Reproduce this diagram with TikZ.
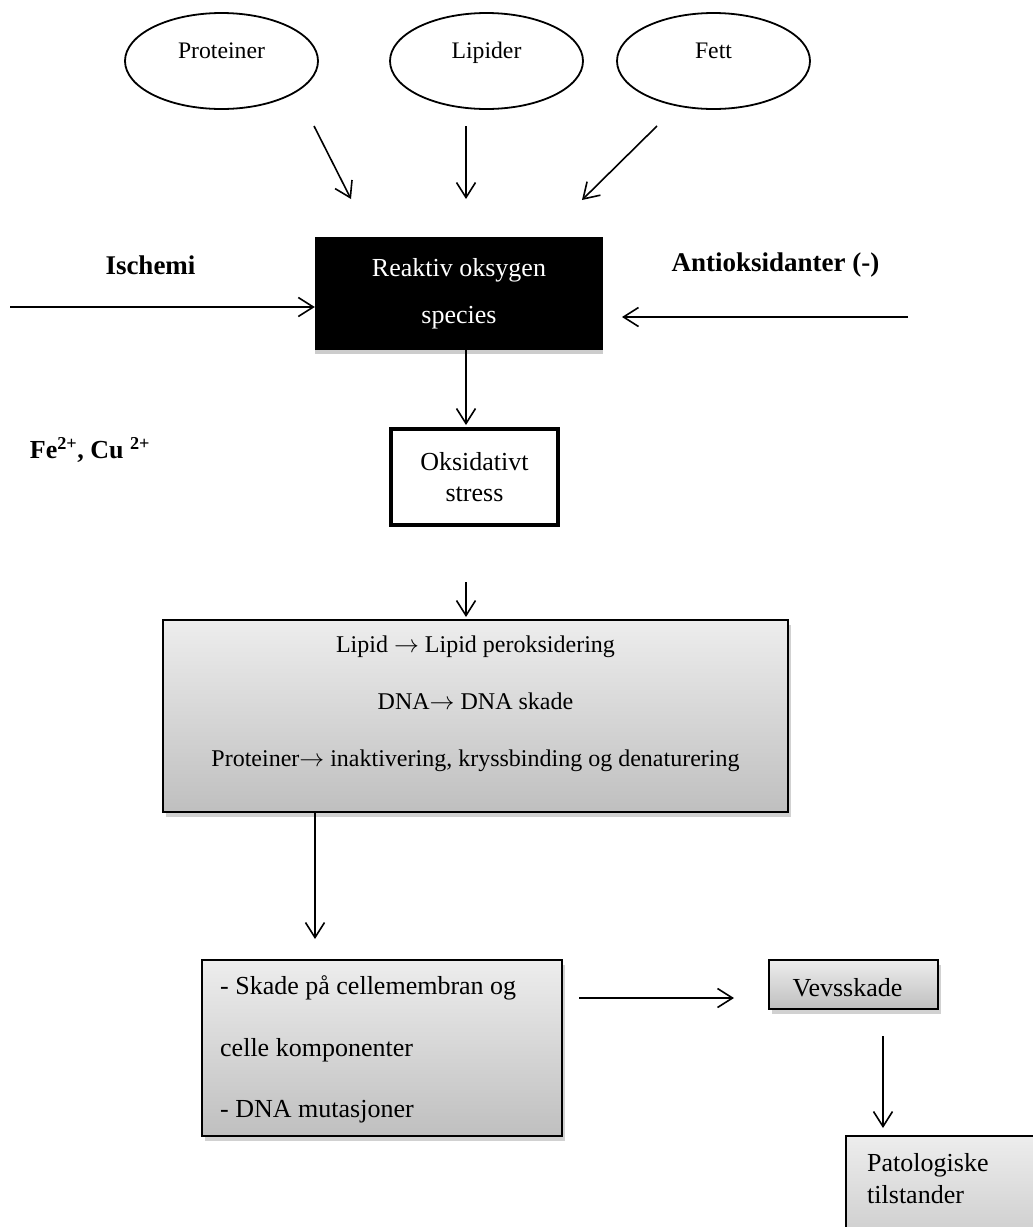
\documentclass[tikz,border=0pt]{standalone}
\usepackage{fontspec}
\setmainfont{Liberation Serif}
\usetikzlibrary{arrows.meta,shapes.geometric,shadows}
\begin{document}
\begin{tikzpicture}[x=1pt,y=-1pt,
  arr/.style={line width=1.6pt,-{Straight Barb[length=15pt,width=19pt,line width=1.6pt]}},
  ell/.style={ellipse,draw,line width=1.8pt,minimum width=193pt,minimum height=96pt,inner sep=0pt,
    font=\fontsize{23.7}{28}\selectfont,text height=16pt,text depth=22pt},
  lbl/.style={inner sep=0pt,font=\fontsize{27}{30}\selectfont\bfseries},
  txt/.style={inner sep=0pt,font=\fontsize{24}{28}\selectfont},
  bigtxt/.style={inner sep=0pt,font=\fontsize{26}{30}\selectfont},
  shbox/.style={draw,line width=1.5pt,top color=black!7,bottom color=black!25,
    drop shadow={shadow xshift=3pt,shadow yshift=-5pt,fill=black!18,opacity=1}}
]
\useasboundingbox (0,0) rectangle (1033,1227);
\fill[white] (0,0) rectangle (1033,1227);
\clip (0,0) rectangle (1033,1227);

% ellipses
\node[ell] (pro) at (221.5,61) {Proteiner};
\node[ell] (lip) at (486.5,61) {Lipider};
\node[ell] (fett) at (713.5,61) {Fett};

% central black box
\node[fill=black,text=white,minimum width=288pt,minimum height=113pt,align=center,
  font=\fontsize{26}{47}\selectfont,
  drop shadow={shadow xshift=0pt,shadow yshift=-4pt,fill=black!20,opacity=1}] (ros) at (459,293.5)
  {\raisebox{5pt}{Reaktiv oksygen}\\\raisebox{5pt}{species}};

% top arrows
\coordinate (pa1) at (314,126); \coordinate (pa2) at (351,199);
\coordinate (la1) at (466,126); \coordinate (la2) at (466,199);
\coordinate (fa1) at (657,126); \coordinate (fa2) at (582,200);
\draw[arr] (pa1) -- (pa2);
\draw[arr] (la1) -- (la2);
\draw[arr] (fa1) -- (fa2);

% side labels and arrows
\node[lbl] (isch) at (150.5,265) {Ischemi};
\node[lbl] (anti) at (775.5,265) {Antioksidanter (-)};
\coordinate (is) at (10,307);
\draw[arr] (is) -- (is -| ros.west);
\coordinate (as) at (908,317); \coordinate (ae) at (622,317);
\draw[arr] (as) -- (ae);

\node[lbl,font=\fontsize{26}{30}\selectfont\bfseries] (fe) at (90,450) {Fe\textsuperscript{2+}, Cu \textsuperscript{2+}};

% oksidativt stress
\node[draw,line width=4.3pt,fill=white,minimum width=167pt,minimum height=96pt,align=center,
  font=\fontsize{26}{31.5}\selectfont,
  drop shadow={shadow xshift=2pt,shadow yshift=-2pt,fill=black!15,opacity=1}] (oks) at (474.5,477) {Oksidativt\\stress};
\coordinate (r1) at (466,350); \coordinate (r2) at (466,425);
\draw[arr] (r1) -- (r2);

% gradient box
\coordinate (o1) at (466,582); \coordinate (o2) at (466,617);
\draw[arr] (o1) -- (o2);
\node[shbox,minimum width=625pt,minimum height=192pt] (grad) at (475.5,716) {};
\node[txt] (g1) at (475.5,647) {Lipid $\rightarrow$ Lipid peroksidering};
\node[txt] (g2) at (475.5,701) {DNA$\rightarrow$ DNA skade};
\node[txt] (g3) at (475.5,761) {Proteiner$\rightarrow$ inaktivering, kryssbinding og denaturering};

% skade box
\coordinate (d1) at (315,812); \coordinate (d2) at (315,939);
\draw[arr] (d1) -- (d2);
\node[shbox,minimum width=360pt,minimum height=176pt] (skade) at (382,1048) {};
\node[bigtxt,anchor=west] (s1) at (220,988) {- Skade på cellemembran og};
\node[bigtxt,anchor=west] (s2) at (220,1050) {celle komponenter};
\node[bigtxt,anchor=west] (s3) at (220,1112) {- DNA mutasjoner};

% vevsskade
\coordinate (h1) at (579,998); \coordinate (h2) at (734,998);
\draw[arr] (h1) -- (h2);
\node[shbox,minimum width=169pt,minimum height=49pt] (vev) at (853.5,984.5) {};
\node[bigtxt] (vevt) at (847.5,988) {Vevsskade};

% patologiske
\coordinate (v1) at (883,1036); \coordinate (v2) at (883,1128);
\draw[arr] (v1) -- (v2);
\node[shbox,anchor=north west,minimum width=250pt,minimum height=150pt] (pat) at (845,1135) {};
\node[bigtxt,anchor=west] (p1) at (867,1165) {Patologiske};
\node[bigtxt,anchor=west] (p2) at (867,1195) {tilstander};
\end{tikzpicture}
\end{document}
